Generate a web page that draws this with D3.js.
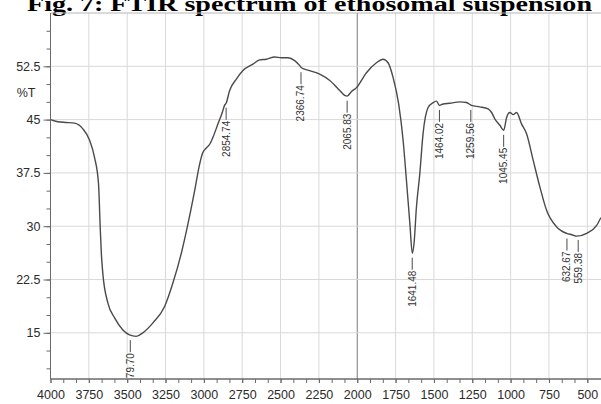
<!DOCTYPE html>
<html>
<head>
<meta charset="utf-8">
<script src="https://cdn.jsdelivr.net/npm/d3@7"></script>
<style>
    body { margin: 0; background: #fff; }
    #chart { width: 601px; height: 404px; }
</style>
</head>
<body>
<div id="chart"></div>
<script>
// wavenumber (cm-1) and transmittance (%T)
const wavenumbers = [4000, 3952, 3900, 3843, 3789, 3745, 3713, 3687, 3676, 3668, 3659, 3626, 3582, 3528, 3485, 3441,
    3398, 3332, 3256, 3202, 3147, 3115, 3060, 3030, 3010, 2984, 2960, 2941, 2908, 2880, 2865, 2855, 2832, 2788,
    2745, 2680, 2636, 2593, 2538, 2495, 2452, 2408, 2375, 2364, 2310, 2245, 2179, 2114, 2082, 2066, 2040, 2005,
    1940, 1875, 1832, 1799, 1766, 1730, 1701, 1679, 1657, 1641, 1630, 1614, 1592, 1571, 1538, 1505, 1483, 1464,
    1440, 1397, 1331, 1288, 1255, 1201, 1147, 1124, 1103, 1070, 1045, 1026, 1005, 983, 961, 929, 896, 853, 809,
    765, 700, 635, 600, 569, 504, 439, 412];
const transmittance = [45.0, 44.7, 44.6, 44.5, 43.7, 42.1, 39.7, 36.0, 29.9, 26.0, 23.4, 19.2, 17.1, 15.4, 14.7, 14.5,
    15.0, 16.4, 18.7, 22.0, 26.2, 29.2, 35.0, 38.5, 40.2, 41.0, 41.6, 42.5, 44.4, 46.0, 47.0, 47.3, 49.1, 50.7,
    51.9, 52.8, 53.4, 53.5, 53.8, 53.7, 53.7, 53.3, 52.6, 52.3, 51.9, 51.4, 50.5, 49.1, 48.4, 48.3, 48.9, 49.5,
    51.6, 53.0, 53.5, 53.0, 50.9, 47.2, 42.1, 36.4, 30.4, 26.2, 27.5, 32.7, 37.4, 43.0, 46.7, 47.4, 47.6, 47.0,
    47.2, 47.3, 47.5, 47.4, 47.0, 46.8, 46.5, 46.0, 45.1, 44.2, 43.5, 45.3, 46.0, 45.7, 46.0, 44.4, 43.0, 39.3, 35.5,
    32.2, 29.9, 29.0, 28.8, 28.6, 29.0, 30.1, 31.2];

// annotated peaks
const peakWavenumbers = [3479.70, 2854.74, 2366.74, 2065.83, 1641.48, 1464.02, 1259.56, 1045.45, 632.67, 559.38];
const peakTransmittance = [14.6, 47.3, 52.3, 48.3, 26.2, 47.0, 47.0, 43.5, 28.9, 28.7];

// tick labels
const xTickValues = [4000, 3750, 3500, 3250, 3000, 2750, 2500, 2250, 2000, 1750, 1500, 1250, 1000, 750, 500];
const yTickValues = [15, 22.5, 30, 37.5, 45, 52.5];

const titleText = "Fig. 7: FTIR spectrum of ethosomal suspension";

class SpectrumVis {
    constructor(_parentElement) {
        this.parentElement = _parentElement;
        this.data = wavenumbers.map((w, i) => ({ wn: w, t: transmittance[i] }));
        this.peaks = peakWavenumbers.map((w, i) => ({ wn: w, t: peakTransmittance[i] }));
        this.initVis();
    }

    initVis() {
        const vis = this;

        vis.width = 601;
        vis.height = 404;
        vis.left = 50.5;
        vis.top = 13;
        vis.bottom = 379;

        vis.svg = d3.select(`#${vis.parentElement}`)
            .append("svg")
            .attr("width", vis.width)
            .attr("height", vis.height)
            .style("font-family", "'Liberation Sans', Arial, sans-serif");

        // scales (the plot runs past the right edge of the picture)
        vis.xScale = d3.scaleLinear().domain([4000, 500]).range([vis.left, 587.3]);
        vis.yScale = d3.scaleLinear().domain([8.5, 60]).range([vis.bottom, vis.top]);

        vis.svg.append("clipPath").attr("id", "plot-clip")
            .append("rect")
            .attr("x", vis.left)
            .attr("y", vis.top)
            .attr("width", vis.width - vis.left)
            .attr("height", vis.bottom - vis.top);

        // title, cut at the top of the picture
        vis.svg.append("text")
            .attr("x", 27)
            .attr("y", 11)
            .attr("font-family", "'Liberation Serif', 'Times New Roman', serif")
            .attr("font-weight", "bold")
            .attr("font-size", "20px")
            .attr("textLength", 565)
            .attr("lengthAdjust", "spacingAndGlyphs")
            .text(titleText);

        // grid
        const grid = vis.svg.append("g").attr("class", "grid");
        grid.selectAll(".vgrid")
            .data(xTickValues.filter(d => d !== 4000))
            .enter()
            .append("line")
            .attr("x1", d => vis.xScale(d))
            .attr("x2", d => vis.xScale(d))
            .attr("y1", vis.top)
            .attr("y2", vis.bottom)
            .attr("stroke", d => d === 2000 ? "#7a7a7a" : "#d9d9d9")
            .attr("stroke-width", 1);
        grid.selectAll(".hgrid")
            .data(yTickValues)
            .enter()
            .append("line")
            .attr("x1", vis.left)
            .attr("x2", vis.width)
            .attr("y1", d => vis.yScale(d))
            .attr("y2", d => vis.yScale(d))
            .attr("stroke", "#d9d9d9")
            .attr("stroke-width", 1);

        // top frame
        vis.svg.append("line")
            .attr("x1", vis.left).attr("x2", vis.width)
            .attr("y1", vis.top).attr("y2", vis.top)
            .attr("stroke", "#b5b5b5");

        // minor ticks
        const xMinor = d3.range(0, 43).map(i => 4000 - i * 250 / 3).filter(d => d >= 410);
        const yMinor = d3.range(10, 60, 2.5);

        vis.xAxis = vis.svg.append("g")
            .attr("transform", `translate(0,${vis.bottom})`)
            .call(d3.axisBottom(vis.xScale).tickValues(xMinor).tickSize(4).tickFormat(""));
        vis.xAxis.append("g")
            .call(d3.axisBottom(vis.xScale).tickValues(xTickValues).tickSize(4).tickPadding(7).tickFormat(d3.format("d")));
        vis.xAxis.selectAll(".domain").attr("stroke", "#6a6a6a").attr("d", `M${vis.left},0H${vis.width}`);
        vis.xAxis.selectAll("line").attr("stroke", "#6a6a6a");
        vis.xAxis.selectAll("text").attr("font-size", "12.5px").attr("fill", "#2b2b2b").attr("font-family", null);

        vis.yAxis = vis.svg.append("g")
            .attr("transform", `translate(${vis.left},0)`)
            .call(d3.axisLeft(vis.yScale).tickValues(yMinor).tickSize(4).tickFormat(""));
        vis.yAxis.append("g")
            .call(d3.axisLeft(vis.yScale).tickValues(yTickValues).tickSize(7).tickPadding(3).tickFormat(d => d));
        vis.yAxis.selectAll(".domain").attr("stroke", "#6a6a6a").attr("d", `M0,${vis.top}V${vis.bottom}`);
        vis.yAxis.selectAll("line").attr("stroke", "#6a6a6a");
        vis.yAxis.selectAll("text").attr("font-size", "12.5px").attr("fill", "#2b2b2b").attr("font-family", null);

        // y axis unit
        vis.svg.append("text")
            .attr("x", 26)
            .attr("y", 97)
            .attr("text-anchor", "middle")
            .attr("font-size", "12.5px")
            .attr("fill", "#2b2b2b")
            .text("%T");

        vis.plot = vis.svg.append("g").attr("clip-path", "url(#plot-clip)");

        vis.updateVis();
    }

    updateVis() {
        const vis = this;

        const line = d3.line()
            .x(d => vis.xScale(d.wn))
            .y(d => vis.yScale(d.t))
            .curve(d3.curveMonotoneX);

        vis.plot.append("path")
            .datum(vis.data)
            .attr("fill", "none")
            .attr("stroke", "#4a4a4a")
            .attr("stroke-width", 1.4)
            .attr("d", line);

        // peak markers: short tick under the curve, then the rotated value
        const peak = vis.plot.selectAll(".peak")
            .data(vis.peaks)
            .enter()
            .append("g")
            .attr("class", "peak")
            .attr("transform", d => `translate(${vis.xScale(d.wn)},${vis.yScale(d.t) + 4.5})`);

        peak.append("line")
            .attr("x1", 0).attr("x2", 0)
            .attr("y1", 0).attr("y2", 12)
            .attr("stroke", "#4a4a4a")
            .attr("stroke-width", 1);

        peak.append("text")
            .attr("transform", "translate(0,13) rotate(-90)")
            .attr("text-anchor", "end")
            .attr("dy", "0.35em")
            .attr("font-size", "10px")
            .attr("fill", "#333")
            .text(d => d.wn.toFixed(2));
    }
}

new SpectrumVis("chart");
</script>
</body>
</html>
